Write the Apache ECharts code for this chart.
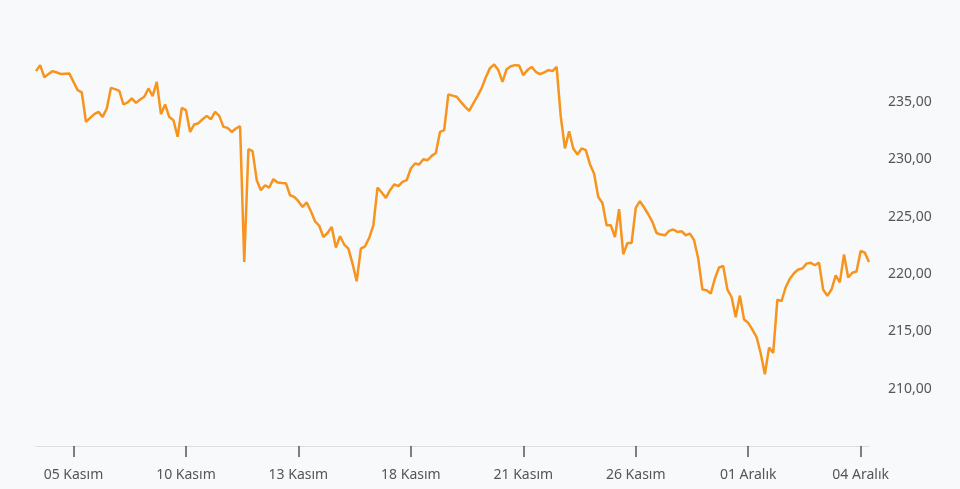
<!DOCTYPE html>
<html>
<head>
<meta charset="utf-8">
<script src="https://cdn.jsdelivr.net/npm/echarts@6/dist/echarts.min.js"></script>
<style>
html,body{margin:0;padding:0;background:#f8f9fb;}
#chart{width:960px;height:489px;}
</style>
</head>
<body>
<div id="chart"></div>
<script>
// Trading days shown on the chart
var days = ['04 Kasım','05 Kasım','06 Kasım','07 Kasım','10 Kasım','11 Kasım','12 Kasım','13 Kasım','14 Kasım',
  '17 Kasım','18 Kasım','19 Kasım','20 Kasım','21 Kasım','24 Kasım','25 Kasım','26 Kasım','27 Kasım','28 Kasım',
  '01 Aralık','02 Aralık','03 Aralık','04 Aralık'];
// Hourly points within a trading day
var hours = ['10:00','11:00','12:00','13:00','14:00','15:00','16:00','17:00','18:00'];

// Price values (hourly)
var prices = [
  237.68,238.20,237.15,237.42,237.68,237.56,237.42,237.46,237.48,
  236.74,236.02,235.82,233.26,233.60,233.93,234.13,233.69,234.42,
  236.22,236.11,235.96,234.77,234.95,235.30,234.91,235.21,235.44,
  236.17,235.50,236.74,233.93,234.77,233.67,233.40,231.96,234.48,
  234.28,232.38,233.03,233.14,233.49,233.78,233.49,234.13,233.78,
  232.82,232.73,232.38,232.68,232.88,221.04,230.87,230.70,228.17,
  227.30,227.73,227.53,228.26,227.97,227.93,227.91,226.86,226.71,
  226.34,225.84,226.23,225.47,224.59,224.20,223.22,223.57,224.10,
  222.30,223.29,222.56,222.21,220.90,219.36,222.21,222.41,223.14,
  224.24,227.53,227.10,226.63,227.30,227.80,227.65,228.02,228.17,
  229.19,229.63,229.54,230.00,229.91,230.29,230.55,232.38,232.53,
  235.65,235.54,235.44,235.00,234.58,234.22,234.86,235.50,236.20,
  237.15,237.94,238.25,237.77,236.74,237.85,238.11,238.20,238.16,
  237.33,237.77,238.05,237.62,237.42,237.56,237.77,237.68,238.05,
  233.69,230.94,232.44,230.94,230.41,230.94,230.79,229.57,228.74,
  226.71,226.19,224.24,224.24,223.22,225.64,221.72,222.70,222.70,
  225.75,226.34,225.79,225.20,224.53,223.57,223.43,223.37,223.75,
  223.87,223.66,223.72,223.37,223.52,222.94,221.34,218.64,218.58,
  218.29,219.60,220.56,220.69,218.64,217.99,216.22,218.11,216.02,
  215.74,215.15,214.50,213.08,211.25,213.58,213.12,217.76,217.63,
  218.84,219.58,220.06,220.39,220.47,220.90,220.97,220.76,220.99,
  218.62,218.10,218.64,219.88,219.26,221.70,219.69,220.10,220.21,
  222.00,221.85,221.04
];

// Category labels: one per hourly point
var categories = [];
for (var d = 0; d < days.length; d++) {
  for (var h = 0; h < hours.length; h++) {
    if (categories.length < prices.length) categories.push(days[d] + ' ' + hours[h]);
  }
}
// Days that get a tick label on the x axis
var tickDays = ['05 Kasım','10 Kasım','13 Kasım','18 Kasım','21 Kasım','26 Kasım','01 Aralık','04 Aralık'];

function isTick(index, value) {
  var parts = value.split(' ');
  var day = parts[0] + ' ' + parts[1];
  return parts[2] === hours[0] && tickDays.indexOf(day) >= 0;
}

var chart = echarts.init(document.getElementById('chart'), null, {renderer: 'canvas'});
chart.setOption({
  backgroundColor: '#f8f9fb',
  animation: false,
  grid: {left: 36, right: 91, top: 44.5, bottom: 43, containLabel: false},
  xAxis: {
    type: 'category',
    data: categories,
    boundaryGap: false,
    axisLine: {show: true, lineStyle: {color: '#dcdde2', width: 1}},
    axisTick: {show: true, interval: isTick, length: 11, lineStyle: {color: '#555', width: 1.5}},
    axisLabel: {
      interval: isTick,
      margin: 22,
      color: '#555',
      fontSize: 14,
      fontFamily: 'Noto Sans',
      formatter: function (v) { var p = v.split(' '); return p[0] + ' ' + p[1]; }
    },
    splitLine: {show: false}
  },
  yAxis: {
    type: 'value',
    position: 'right',
    min: 205,
    max: 240,
    interval: 5,
    axisLine: {show: false},
    axisTick: {show: false},
    splitLine: {show: false},
    axisLabel: {
      showMinLabel: false,
      showMaxLabel: false,
      margin: 19,
      color: '#555',
      fontSize: 14,
      fontFamily: 'Noto Sans',
      formatter: function (v) { return v.toFixed(2).replace('.', ','); }
    }
  },
  series: [{
    type: 'line',
    data: prices,
    symbol: 'none',
    lineStyle: {color: '#f7941d', width: 2.5},
    itemStyle: {color: '#f7941d'}
  }]
});
</script>
</body>
</html>
